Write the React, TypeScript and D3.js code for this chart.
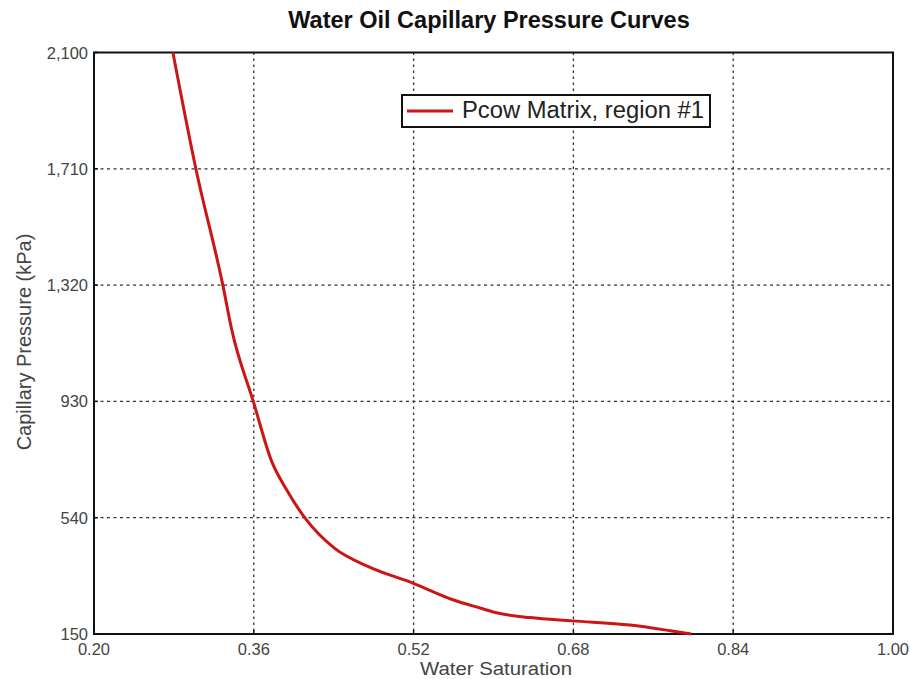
import React from "react";
import * as d3 from "d3";

const sw: number[] = [0.279, 0.302, 0.329, 0.338, 0.3595, 0.378, 0.393, 0.411, 0.441, 0.4747, 0.5197, 0.56, 0.5865, 0.603, 0.6365, 0.679, 0.7367, 0.777, 0.798];
const pc: number[] = [2100, 1710, 1320, 1169, 930, 728, 633, 540, 437, 376, 320, 264, 237, 221, 205, 194, 180, 161, 150];
const xTicks: number[] = [0.2, 0.36, 0.52, 0.68, 0.84, 1.0];
const yTicks: number[] = [150, 540, 930, 1320, 1710, 2100];
const title = "Water Oil Capillary Pressure Curves";
const xTitle = "Water Saturation";
const yTitle = "Capillary Pressure (kPa)";
const seriesName = "Pcow Matrix, region #1";

export default function App() {
  const W = 910, H = 679;
  const L = 94, R = 893, T = 52.5, B = 634;
  const x = d3.scaleLinear().domain([0.2, 1.0]).range([L, R]);
  const y = d3.scaleLinear().domain([150, 2100]).range([B, T]);
  const pts = sw.map((s, i) => [s, pc[i]] as [number, number]);
  const line = d3.line<[number, number]>().x(d => x(d[0])).y(d => y(d[1])).curve(d3.curveMonotoneX);
  const font = "Liberation Sans, Arial, sans-serif";
  return (
    <svg width={W} height={H} style={{ position: "absolute", left: 0, top: 0, background: "#fff" }} fontFamily={font}>
      <rect x={0} y={0} width={W} height={H} fill="#fff" />
      <text x={489} y={28} textAnchor="middle" fontWeight="bold" fontSize={23.5} fill="#111">{title}</text>
      {xTicks.slice(1, -1).map(t => (
        <line key={"gx" + t} x1={x(t)} x2={x(t)} y1={T} y2={B} stroke="#333" strokeWidth={1.3} strokeDasharray="2.5,3.5" />
      ))}
      {yTicks.slice(1, -1).map(t => (
        <line key={"gy" + t} x1={L} x2={R} y1={y(t)} y2={y(t)} stroke="#333" strokeWidth={1.3} strokeDasharray="3,3.5" />
      ))}
      <rect x={L} y={T} width={R - L} height={B - T} fill="none" stroke="#111" strokeWidth={2} />
      {xTicks.map(t => (
        <g key={"tx" + t}>
          <line x1={x(t)} x2={x(t)} y1={B} y2={B - 4} stroke="#111" strokeWidth={1.5} />
          <text x={x(t)} y={655} textAnchor="middle" fontSize={16.5} fill="#444">{t.toFixed(2)}</text>
        </g>
      ))}
      {yTicks.map(t => (
        <g key={"ty" + t}>
          <line x1={L} x2={L + 4} y1={y(t)} y2={y(t)} stroke="#111" strokeWidth={1.5} />
          <text x={88} y={y(t) + 6} textAnchor="end" fontSize={16.5} fill="#444">{d3.format(",")(t)}</text>
        </g>
      ))}
      <text x={496} y={675} textAnchor="middle" fontSize={18} textLength={152} lengthAdjust="spacingAndGlyphs" fill="#444">{xTitle}</text>
      <text transform={`translate(31,342) rotate(-90)`} textAnchor="middle" fontSize={20} fill="#444">{yTitle}</text>
      <path d={line(pts) || ""} fill="none" stroke="#cc1515" strokeWidth={3} strokeLinejoin="round" />
      <g>
        <rect x={402} y={95} width={308} height={32} fill="#fff" stroke="#111" strokeWidth={2} />
        <line x1={407} x2={453} y1={111} y2={111} stroke="#cc1515" strokeWidth={3} />
        <text x={462} y={118} fontSize={23} textLength={242} lengthAdjust="spacingAndGlyphs" fill="#222">{seriesName}</text>
      </g>
    </svg>
  );
}
